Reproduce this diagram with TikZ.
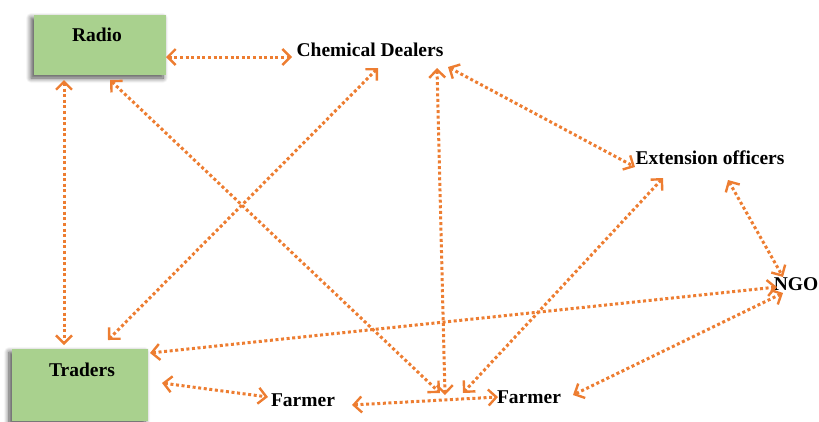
\documentclass[tikz,border=0pt]{standalone}
\usepackage{fontspec}
\setmainfont{Liberation Serif}
\usetikzlibrary{arrows.meta,shadows.blur}
\definecolor{boxgreen}{HTML}{A9D18E}
\definecolor{linkorange}{HTML}{ED7D31}
\tikzset{
  actorbox/.style={fill=boxgreen,blur shadow={shadow xshift=-3pt,shadow yshift=-3pt,
    shadow blur radius=5pt,shadow blur steps=8,shadow opacity=70}},
  actor/.style={inner sep=0pt,font=\fontsize{19.5}{22}\selectfont\bfseries},
  link/.style={linkorange,line width=3pt,dash pattern=on 3pt off 2.6pt,
    {Straight Barb[length=8pt,width=16pt,line width=2.4pt]}-{Straight Barb[length=8pt,width=16pt,line width=2.4pt]}}
}
\begin{document}
\begin{tikzpicture}[x=1pt,y=-1pt]
\useasboundingbox (0,0) rectangle (819,421);
\node[actorbox,minimum width=132pt,minimum height=60pt,
  label={[actor,anchor=north,label distance=0pt,xshift=-3pt,yshift=-13pt]north:Radio}] (radio) at (100,45) {};
\node[actorbox,minimum width=136pt,minimum height=72pt,
  label={[actor,anchor=north,label distance=0pt,xshift=2pt,yshift=-14pt]north:Traders}] (traders) at (80,385) {};
\node[actor] (chem) at (370,50) {Chemical Dealers};
\node[actor] (ext) at (710,158) {Extension officers};
\node[actor] (ngo) at (796,284) {NGO};
\node[actor] (farmerA) at (303,400) {Farmer};
\node[actor] (farmerB) at (529,397) {Farmer};
% links between actors
\draw[link] ([shift={(66,12)}]radio.center) -- ([shift={(-78,7)}]chem.center);
\draw[link] ([shift={(-36,35)}]radio.center) -- ([shift={(-16,-40)}]traders.center);
\draw[link] ([shift={(10,35)}]radio.center) -- ([shift={(-89,-4)}]farmerB.center);
\draw[link] ([shift={(8,18)}]chem.center) -- ([shift={(28,-45)}]traders.center);
\draw[link] ([shift={(67,18)}]chem.center) -- ([shift={(-84,-2)}]farmerB.center);
\draw[link] ([shift={(78,17)}]chem.center) -- ([shift={(-75,9)}]ext.center);
\draw[link] ([shift={(-47,20)}]ext.center) -- ([shift={(-66,-4)}]farmerB.center);
\draw[link] ([shift={(18,22)}]ext.center) -- ([shift={(-13,-7)}]ngo.center);
\draw[link] ([shift={(-19,3)}]ngo.center) -- ([shift={(70,-32)}]traders.center);
\draw[link] ([shift={(-13,9)}]ngo.center) -- ([shift={(44,-2)}]farmerB.center);
\draw[link] ([shift={(82,-2)}]traders.center) -- ([shift={(-35,-3)}]farmerA.center);
\draw[link] ([shift={(49,5)}]farmerA.center) -- ([shift={(-31,0)}]farmerB.center);
\end{tikzpicture}
\end{document}
